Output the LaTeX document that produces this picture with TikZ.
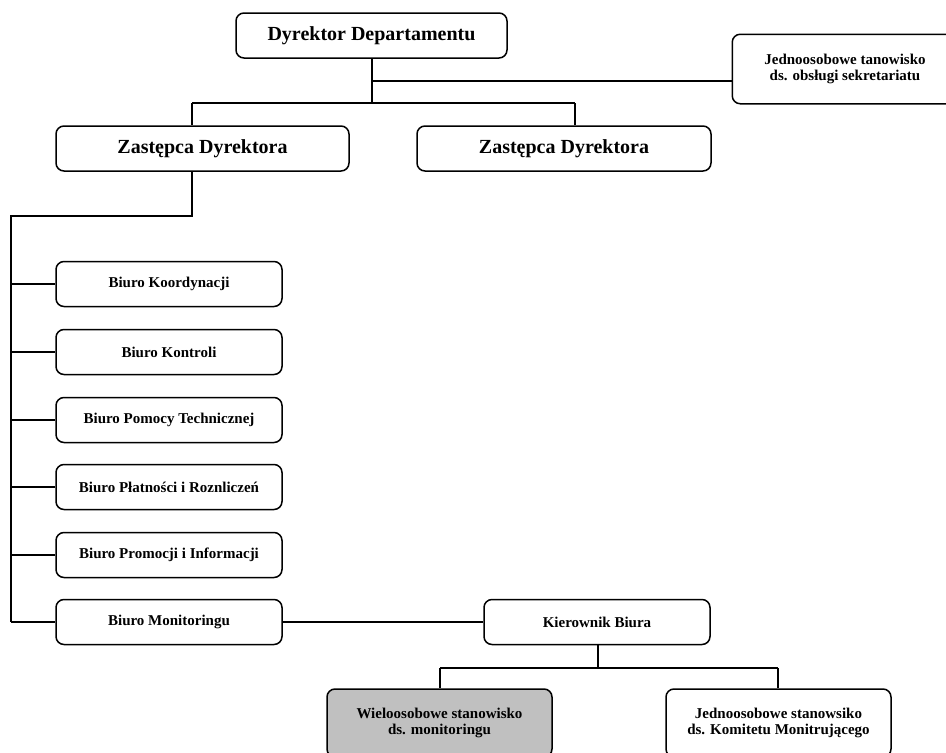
\documentclass[tikz,border=0pt]{standalone}
\usepackage{fontspec}
\setmainfont{Liberation Serif}
\begin{document}
\begin{tikzpicture}[x=1pt,y=-1pt,
  boxline/.style={draw=black, line width=1.5pt, rounded corners=8pt},
  box/.style={boxline, fill=white, inner sep=0pt, align=center, font=\bfseries\fontsize{15}{16.5}\selectfont},
  bigbox/.style={box, font=\bfseries\fontsize{20}{24}\selectfont},
  conn/.style={draw=black, line width=1.5pt}]
\useasboundingbox (0,0) rectangle (946,753);
% top level
\node[bigbox, minimum width=271pt, minimum height=45pt] (dd) at (371.5,35.5) {Dyrektor Departamentu};
\node[box, draw=none, fill=none, minimum width=224pt, minimum height=68pt] (sek) at (845,69) {Jednoosobowe tanowisko\\ds. obsługi sekretariatu};
\draw[boxline] (sek.south west) rectangle ([xshift=20pt]sek.north east);
\node[bigbox, minimum width=293pt, minimum height=45pt] (z1) at (202.5,148.5) {Zastępca Dyrektora};
\node[bigbox, minimum width=294pt, minimum height=45pt] (z2) at (564,148.5) {Zastępca Dyrektora};
% offices
\node[box, minimum width=226pt, minimum height=45pt] (b1) at (169,284) {Biuro Koordynacji};
\node[box, minimum width=226pt, minimum height=45pt] (b2) at (169,352) {Biuro Kontroli};
\node[box, minimum width=226pt, minimum height=45pt] (b3) at (169,420) {Biuro Pomocy Technicznej};
\node[box, minimum width=226pt, minimum height=45pt] (b4) at (169,487) {Biuro Płatności i Roznliczeń};
\node[box, minimum width=226pt, minimum height=45pt] (b5) at (169,555) {Biuro Promocji i Informacji};
\node[box, minimum width=226pt, minimum height=45pt] (b6) at (169,622) {Biuro Monitoringu};
\node[box, minimum width=226pt, minimum height=45pt] (kb) at (597,622) {Kierownik Biura};
\node[box, fill={rgb,255:red,192;green,192;blue,192}, minimum width=225pt, minimum height=68pt] (wm) at (439.5,723) {Wieloosobowe stanowisko\\ds. monitoringu};
\node[box, minimum width=225pt, minimum height=68pt] (jk) at (778.5,723) {Jednoosobowe stanowsiko\\ds. Komitetu Monitrującego};
% junction coordinates
\coordinate (j1) at (372,81);
\coordinate (j2) at (372,103);
\coordinate (jl) at (192,103);
\coordinate (jr) at (575,103);
\coordinate (j3) at (192,216);
\coordinate (j4) at (11,216);
\coordinate (j5) at (11,622);
\coordinate (k1) at (598,668);
\coordinate (kl) at (440,668);
\coordinate (kr) at (778,668);
% connectors
\draw[conn] (dd.south -| j1) -- (j2);
\draw[conn] (j1) -- (j1 -| sek.west);
\draw[conn] (jl) -- (jr);
\draw[conn] (jl) -- (jl |- z1.north);
\draw[conn] (jr) -- (jr |- z2.north);
\draw[conn] (z1.south -| j3) -- (j3) -- (j4) -- (j5);
\draw[conn] (j4 |- b1.west) -- (b1.west);
\draw[conn] (j4 |- b2.west) -- (b2.west);
\draw[conn] (j4 |- b3.west) -- (b3.west);
\draw[conn] (j4 |- b4.west) -- (b4.west);
\draw[conn] (j4 |- b5.west) -- (b5.west);
\draw[conn] (j5) -- (j5 -| b6.west);
\draw[conn] (b6.east) -- (kb.west);
\draw[conn] (kb.south -| k1) -- (k1);
\draw[conn] (kl) -- (kr);
\draw[conn] (kl) -- (kl |- wm.north);
\draw[conn] (kr) -- (kr |- jk.north);
\end{tikzpicture}
\end{document}
